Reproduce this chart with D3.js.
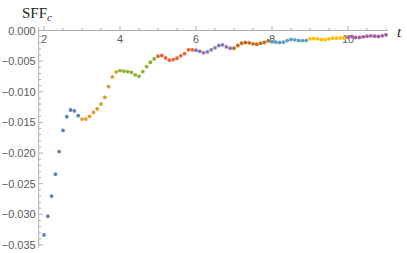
<!DOCTYPE html>
<html>
<head>
<meta charset="utf-8">
<script src="https://cdn.jsdelivr.net/npm/d3@7"></script>
<style>
  body { margin: 0; background: #fff; }
  svg { display: block; }
  .tick-label { font-family: "Liberation Sans", Arial, sans-serif; font-size: 11px; fill: #5a5a5a; }
  .ax-title { font-family: "Liberation Serif", "Times New Roman", serif; font-size: 15px; fill: #222; }
</style>
</head>
<body>
<div id="grafico"></div>
<script>
// valores, um array por faixa de t (passo 0.1)
const t_inicio = [2, 3, 4, 5, 6, 7, 8, 9, 10];
const seg_2  = [-0.03337, -0.03031, -0.02702, -0.02344, -0.01976, -0.01631, -0.01407, -0.01297, -0.01313, -0.01390];
const seg_3  = [-0.01445, -0.01445, -0.01401, -0.01336, -0.01281, -0.01199, -0.01091, -0.00916, -0.00758, -0.00676];
const seg_4  = [-0.00654, -0.00665, -0.00671, -0.00684, -0.00723, -0.00747, -0.00671, -0.00589, -0.00518, -0.00464];
const seg_5  = [-0.00420, -0.00409, -0.00447, -0.00485, -0.00474, -0.00453, -0.00414, -0.00376, -0.00316, -0.00316];
const seg_6  = [-0.00322, -0.00339, -0.00365, -0.00348, -0.00316, -0.00283, -0.00245, -0.00234, -0.00267, -0.00290];
const seg_7  = [-0.00290, -0.00245, -0.00208, -0.00196, -0.00201, -0.00218, -0.00224, -0.00208, -0.00196, -0.00168];
const seg_8  = [-0.00185, -0.00191, -0.00196, -0.00191, -0.00164, -0.00147, -0.00152, -0.00164, -0.00164, -0.00164];
const seg_9  = [-0.00136, -0.00131, -0.00136, -0.00147, -0.00152, -0.00136, -0.00126, -0.00126, -0.00119, -0.00126];
const seg_10 = [-0.00110, -0.00098, -0.00114, -0.00114, -0.00103, -0.00093, -0.00087, -0.00093, -0.00098, -0.00087, -0.00070];
const segmentos = [seg_2, seg_3, seg_4, seg_5, seg_6, seg_7, seg_8, seg_9, seg_10];
const cores = ["#5E81B5", "#E19C24", "#8FB032", "#EB6235", "#8778B3", "#C56E1A", "#5D9EC7", "#FFBF00", "#A5609D"];

const x_ticks = [2, 4, 6, 8, 10];
const y_ticks = [0, -0.005, -0.010, -0.015, -0.020, -0.025, -0.030, -0.035];

const w = 407, h = 253;

const svg = d3.select("#grafico").append("svg")
  .attr("width", w)
  .attr("height", h);

// escalas
const x = d3.scaleLinear().domain([2, 10]).range([44, 348]);
const y = d3.scaleLinear().domain([0, -0.035]).range([30.5, 245]);

const x_min = 1.86, x_max = 11.05;
const y_top = 0.0006, y_bot = -0.0355;
const cor_eixo = "#b0b0b0";

// pontos
const pontos = [];
segmentos.forEach((seg, k) => {
  seg.forEach((v, i) => {
    pontos.push({ t: t_inicio[k] + i * 0.1, v: v, cor: cores[k] });
  });
});

// eixo x
const gx = svg.append("g");
gx.append("line")
  .attr("x1", x(x_min)).attr("x2", x(x_max))
  .attr("y1", y(0)).attr("y2", y(0))
  .attr("stroke", cor_eixo).attr("stroke-width", 1);

const x_menores = d3.range(2, 11.01, 0.5).filter(d => x_ticks.indexOf(d) < 0);
gx.selectAll("line.menor").data(x_menores).enter().append("line")
  .attr("x1", d => x(d)).attr("x2", d => x(d))
  .attr("y1", y(0)).attr("y2", y(0) - 2.5)
  .attr("stroke", cor_eixo);
gx.selectAll("line.maior").data(x_ticks).enter().append("line")
  .attr("x1", d => x(d)).attr("x2", d => x(d))
  .attr("y1", y(0)).attr("y2", y(0) - 4.5)
  .attr("stroke", cor_eixo);
gx.selectAll("text").data(x_ticks).enter().append("text")
  .attr("class", "tick-label")
  .attr("x", d => x(d))
  .attr("y", y(0) + 12)
  .attr("text-anchor", "middle")
  .text(d => d);

// eixo y
const gy = svg.append("g");
gy.append("line")
  .attr("x1", x(x_min)).attr("x2", x(x_min))
  .attr("y1", y(y_top)).attr("y2", y(y_bot))
  .attr("stroke", cor_eixo);

const y_menores = d3.range(0, 36).map(d => -d * 0.001).filter(d => Math.round(d * 1000) % 5 !== 0);
gy.selectAll("line.menor").data(y_menores).enter().append("line")
  .attr("x1", x(x_min)).attr("x2", x(x_min) + 2.5)
  .attr("y1", d => y(d)).attr("y2", d => y(d))
  .attr("stroke", cor_eixo);
gy.selectAll("line.maior").data(y_ticks).enter().append("line")
  .attr("x1", x(x_min)).attr("x2", x(x_min) + 4.5)
  .attr("y1", d => y(d)).attr("y2", d => y(d))
  .attr("stroke", cor_eixo);

const fmt = d3.format(".3f");
gy.selectAll("text").data(y_ticks).enter().append("text")
  .attr("class", "tick-label")
  .attr("x", x(x_min) - 3)
  .attr("y", d => y(d) + 4)
  .attr("text-anchor", "end")
  .text(d => d === 0 ? "0.000" : "\u2212" + fmt(-d));

// titulos dos eixos
const tituloY = svg.append("text")
  .attr("class", "ax-title")
  .attr("x", 22)
  .attr("y", 18);
tituloY.append("tspan").text("SFF");
tituloY.append("tspan")
  .attr("font-style", "italic")
  .attr("font-size", "11px")
  .attr("dy", 3)
  .text("c");

svg.append("text")
  .attr("class", "ax-title")
  .attr("x", 397)
  .attr("y", 37)
  .attr("font-style", "italic")
  .attr("font-size", "16px")
  .text("t");

// desenha os pontos
svg.append("g").selectAll("circle").data(pontos).enter().append("circle")
  .attr("cx", d => x(d.t))
  .attr("cy", d => y(d.v))
  .attr("r", 1.9)
  .attr("fill", d => d.cor);
</script>
</body>
</html>
